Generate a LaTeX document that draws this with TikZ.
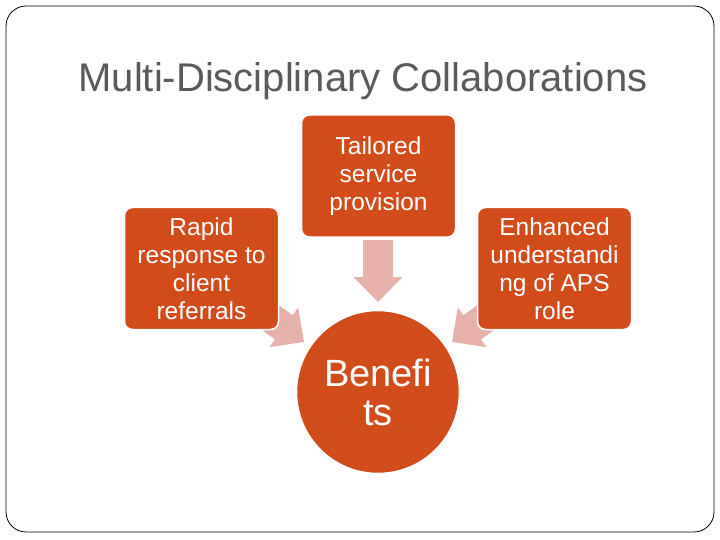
\documentclass[tikz,border=0pt]{standalone}
\usepackage{fontspec}
\setmainfont{Liberation Sans}
\definecolor{boxorange}{HTML}{D14B1B}
\definecolor{arrowpink}{HTML}{E6B0AB}
\definecolor{titlegray}{HTML}{5A5A5A}
\begin{document}
\begin{tikzpicture}[x=1pt,y=-1pt,
  boxnode/.style={draw=white, line width=1.5pt, fill=boxorange, rounded corners=8pt,
    minimum width=154pt, minimum height=122pt, text=white, align=center,
    font=\fontsize{24.5}{28}\selectfont, inner sep=0pt},
  circnode/.style={draw=white, line width=1.5pt, fill=boxorange, circle, minimum size=163pt,
    text=white, align=center, font=\fontsize{38}{39}\selectfont, inner sep=0pt},
  arrowshape/.style={fill=arrowpink, draw=none}]
\useasboundingbox (0,0) rectangle (720,540);
\fill[white] (0,0) rectangle (720,540);
\draw[black, line width=0.8pt, rounded corners=20pt] (6,6) rectangle (714,532);
\node[text=titlegray, font=\fontsize{40}{44}\selectfont] (title) at (363,81) {Multi-Disciplinary Collaborations};
% arrows (drawn behind)
\begin{scope}[shift={(378,302)}, rotate=-90]
  \fill[arrowshape] (0,0) -- (-25,24.5) -- (-25,15) -- (-62,15) -- (-62,-15) -- (-25,-15) -- (-25,-24.5) -- cycle;
\end{scope}
\begin{scope}[shift={(304,342)}, rotate=-36]
  \fill[arrowshape] (0,0) -- (-25,24.5) -- (-25,15) -- (-70,15) -- (-70,-15) -- (-25,-15) -- (-25,-24.5) -- cycle;
\end{scope}
\begin{scope}[shift={(452,342)}, rotate=-144]
  \fill[arrowshape] (0,0) -- (-25,24.5) -- (-25,15) -- (-70,15) -- (-70,-15) -- (-25,-15) -- (-25,-24.5) -- cycle;
\end{scope}
\node[boxnode] (rapid) at (201.5,268.5) {Rapid\\response to\\client\\referrals};
\node[boxnode] (tailored) at (378.5,176) {Tailored\\service\\provision};
\node[boxnode] (enhanced) at (554.5,268.5) {Enhanced\\understandi\\ng of APS\\role};
\node[circnode] (benefits) at (378,392) {Benefi\\ts};
\end{tikzpicture}
\end{document}
